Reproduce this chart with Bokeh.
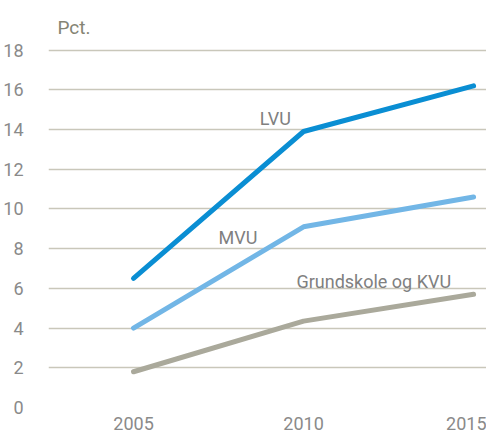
from bokeh.plotting import figure
from bokeh.models import FixedTicker, Range1d, Label
from bokeh.embed import file_html
from bokeh.resources import INLINE

years = [2005, 2010, 2015]
lvu = [6.5, 13.9, 16.2]
mvu = [4.0, 9.1, 10.6]
grund = [1.8, 4.35, 5.7]
y_ticks = [0, 2, 4, 6, 8, 10, 12, 14, 16, 18]
series_names = ["LVU", "MVU", "Grundskole og KVU"]
unit_label = "Pct."

FONT = "Roboto"

p = figure(width=486, height=433, output_backend="svg", toolbar_location=None,
           x_range=Range1d(2002.5, 2015.38), y_range=Range1d(0, 18.08),
           min_border_left=48, min_border_right=0, min_border_top=48, min_border_bottom=26,
           title=unit_label)
p.outline_line_color = None
p.background_fill_color = "white"
p.border_fill_color = "white"

p.title.align = "left"
p.title.offset = 9
p.title.standoff = 19
p.title.text_font = FONT
p.title.text_font_style = "normal"
p.title.text_font_size = "19px"
p.title.text_color = "#858474"

# axes
p.xaxis.ticker = FixedTicker(ticks=years)
p.yaxis.ticker = FixedTicker(ticks=y_ticks)
for ax in (p.xaxis[0], p.yaxis[0]):
    ax.axis_line_color = None
    ax.major_tick_line_color = None
    ax.minor_tick_line_color = None
    ax.major_label_text_font = FONT
    ax.major_label_text_font_size = "18px"
    ax.major_label_text_color = "#8a8a8a"
p.yaxis.major_label_standoff = 19
p.xaxis.major_label_standoff = 3

p.xgrid.grid_line_color = None
p.ygrid.grid_line_color = "#c9c7ba"
p.ygrid.grid_line_width = 1.5

colors = ["#0a8ed3", "#72b6e6", "#aaa99b"]
for ys, c in zip([lvu, mvu, grund], colors):
    p.line(years, ys, line_color=c, line_width=5, line_cap="round", line_join="round")

label_pos = [(2008.71, 14.57), (2007.5, 8.57), (2009.79, 6.35)]
for name, (lx, ly) in zip(series_names, label_pos):
    p.add_layout(Label(x=lx, y=ly, text=name, text_font=FONT, text_font_size="18px",
                       text_color="#808080", text_baseline="alphabetic"))

open("out.html", "w").write(file_html(p, INLINE))
